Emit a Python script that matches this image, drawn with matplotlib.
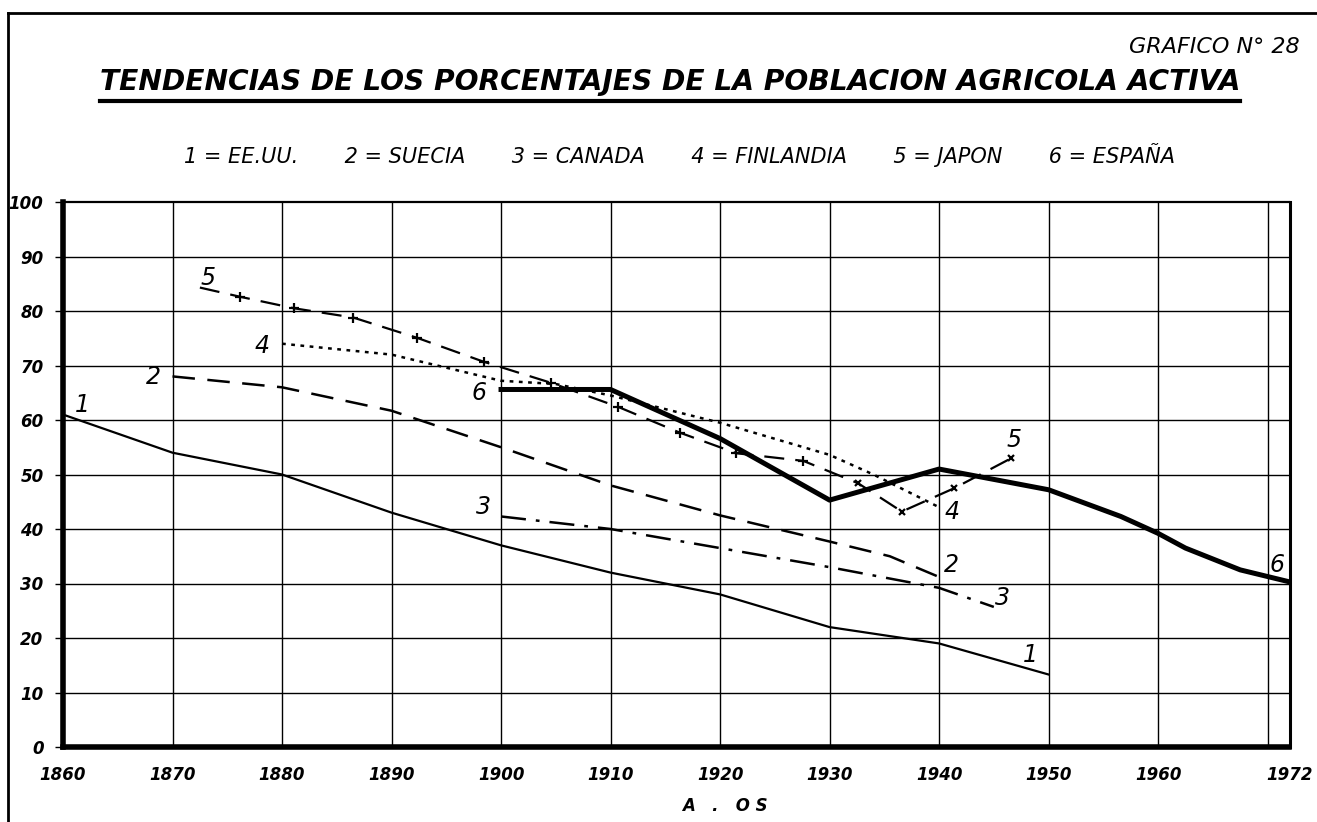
import matplotlib
matplotlib.use("Agg")
import matplotlib.pyplot as plt
from matplotlib.lines import Line2D

plt.rcParams['font.family'] = ['DejaVu Sans']

# ---- data ----
years_us = [1860, 1870, 1880, 1890, 1900, 1910, 1920, 1930, 1940, 1950]
vals_us = [61, 54, 50, 43, 37, 32, 28, 22, 19, 13.3]

years_se = [1870, 1880, 1890, 1900, 1910, 1920, 1930, 1935.5, 1940]
vals_se = [68, 66, 61.7, 55, 48, 42.5, 37.7, 35, 31.2]

years_ca = [1900, 1910, 1920, 1930, 1940, 1945]
vals_ca = [42.3, 40, 36.5, 33, 29.2, 25.7]

years_fi = [1880, 1890, 1900, 1905, 1910, 1920, 1930, 1934, 1940]
vals_fi = [74, 72, 67.2, 66.6, 64.5, 59.5, 53.6, 50, 44]

years_jp = [1872.5, 1876.2, 1881.1, 1886.5, 1892.3, 1898.4, 1904.6, 1910.7, 1916.3,
            1921.5, 1927.6, 1932.6, 1936.6, 1941.4, 1946.6]
vals_jp = [84.3, 82.6, 80.5, 78.8, 75.1, 70.7, 66.8, 62.4, 57.7,
           53.9, 52.5, 48.4, 43.2, 47.5, 53.0]

years_es = [1900, 1910, 1920, 1930, 1940, 1950, 1956.6, 1960, 1962.5, 1967.5, 1972]
vals_es = [65.6, 65.6, 56.6, 45.3, 51, 47.2, 42.3, 39.2, 36.5, 32.5, 30.3]

# series label positions (number, x, y)
lbl_num = ['1', '1', '2', '2', '3', '3', '4', '4', '5', '5', '6', '6']
lbl_x = [1861.8, 1948.3, 1868.3, 1941.1, 1898.4, 1945.8, 1878.2, 1941.2, 1873.2, 1946.8, 1898.0, 1970.9]
lbl_y = [62.7, 16.9, 67.9, 33.4, 44.1, 27.3, 73.6, 43.2, 86.0, 56.3, 64.9, 33.4]

xticks = [1860, 1870, 1880, 1890, 1900, 1910, 1920, 1930, 1940, 1950, 1960, 1972]
xgrid = [1870, 1880, 1890, 1900, 1910, 1920, 1930, 1940, 1950, 1960, 1970]
yticks = [0, 10, 20, 30, 40, 50, 60, 70, 80, 90, 100]

legend_text = "1 = EE.UU.       2 = SUECIA       3 = CANADA       4 = FINLANDIA       5 = JAPON       6 = ESPAÑA"
title_text = "TENDENCIAS DE LOS PORCENTAJES DE LA POBLACION AGRICOLA ACTIVA"

W, H = 1317, 822
fig = plt.figure(figsize=(W / 100, H / 100), dpi=100)
ax = fig.add_axes([63 / W, 1 - 747 / H, (1289.5 - 63) / W, (747 - 202) / H])
ax.set_xlim(1860, 1972)
ax.set_ylim(0, 100)

for g in xgrid:
    ax.axvline(g, color='black', lw=1.0, zorder=1)
for g in yticks[1:-1]:
    ax.axhline(g, color='black', lw=1.0, zorder=1)

k = 'black'
ax.plot(years_us, vals_us, color=k, lw=1.6, zorder=3)
ax.plot(years_se, vals_se, color=k, lw=1.8, dashes=(9, 5), zorder=3)
ax.plot(years_ca, vals_ca, color=k, lw=1.8, dashes=(10, 4, 1.5, 4), zorder=3)
ax.plot(years_fi, vals_fi, color=k, lw=1.8, dashes=(1.5, 2.2), zorder=3)
ax.plot(years_jp, vals_jp, color=k, lw=1.6, dashes=(9, 5), zorder=3)
ax.plot(years_jp[1:11], vals_jp[1:11], ls='none', marker='+', ms=7, mew=1.6, color=k, zorder=4)
ax.plot(years_jp[11:], vals_jp[11:], ls='none', marker='x', ms=5, mew=1.6, color=k, zorder=4)
ax.plot(years_es, vals_es, color=k, lw=3.6, zorder=5, solid_joinstyle='round')

for t, x, y in zip(lbl_num, lbl_x, lbl_y):
    ax.text(x, y, t, fontsize=17, style='italic', ha='center', va='center', zorder=6)

ax.set_xticks(xticks)
ax.set_xticklabels([str(v) for v in xticks], fontsize=12, fontweight='bold', style='italic')
ax.set_yticks(yticks)
ax.set_yticklabels([str(v) for v in yticks], fontsize=12, fontweight='bold', style='italic')
ax.tick_params(axis='x', length=0, pad=14)
ax.tick_params(axis='y', length=6, width=1.0, pad=8)

ax.spines['left'].set_linewidth(4)
ax.spines['bottom'].set_linewidth(4)
ax.spines['top'].set_linewidth(1.6)
ax.spines['right'].set_linewidth(2.2)

# page frame
fig.add_artist(Line2D([8 / W, 8 / W], [0, 1 - 13 / H], color='black', lw=2, transform=fig.transFigure))
fig.add_artist(Line2D([8 / W, 1], [1 - 13 / H, 1 - 13 / H], color='black', lw=2, transform=fig.transFigure))

fig.text(1300 / W, 1 - 47 / H, "GRAFICO N° 28", fontsize=16, style='italic', ha='right', va='center')
title = fig.text(670 / W, 1 - 82 / H, title_text, fontsize=25, style='italic', fontweight='bold',
                 ha='center', va='center')
# fit the title to the width of its underline
renderer = fig.canvas.get_renderer()
wpx = title.get_window_extent(renderer).width
title.set_fontsize(25 * 1140 / wpx)
fig.add_artist(Line2D([100 / W, 1240 / W], [1 - 101 / H, 1 - 101 / H], color='black', lw=3, transform=fig.transFigure))
fig.text(680 / W, 1 - 155 / H, legend_text, fontsize=15, style='italic', ha='center', va='center')
fig.text(725 / W, 1 - 806 / H, "A   .   O S", fontsize=12, style='italic', fontweight='bold', ha='center', va='center')

fig.savefig("out.png", dpi=100)
